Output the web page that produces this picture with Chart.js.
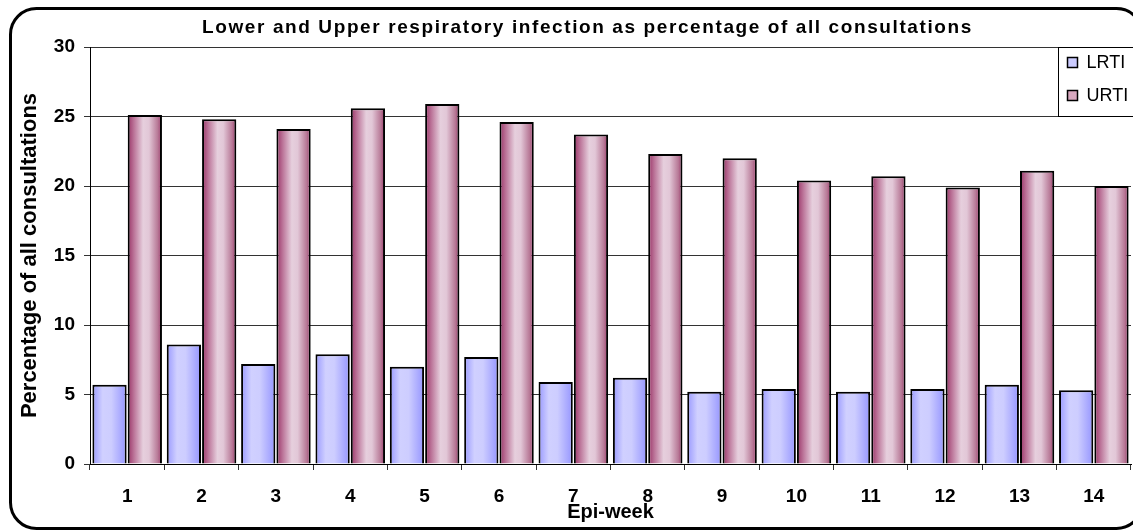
<!DOCTYPE html>
<html>
<head>
<meta charset="utf-8">
<title>Respiratory infection consultations</title>
<script src="https://cdn.jsdelivr.net/npm/chart.js@4.4.1/dist/chart.umd.min.js"></script>
<style>
  body { margin: 0; background: #fff; }
  #wrap { position: relative; width: 1133px; height: 532px; }
</style>
</head>
<body>
<div id="wrap"><canvas id="resp-chart"></canvas></div>
<script>
// Data (percentage of all consultations per epi-week)
const weeks = ["1", "2", "3", "4", "5", "6", "7", "8", "9", "10", "11", "12", "13", "14"];
const lrti = [5.7, 8.6, 7.2, 7.9, 7.0, 7.7, 5.9, 6.2, 5.2, 5.4, 5.2, 5.4, 5.7, 5.3];
const urti = [25.1, 24.8, 24.1, 25.6, 25.9, 24.6, 23.7, 22.3, 22.0, 20.4, 20.7, 19.9, 21.1, 20.0];
const yTicks = [0, 5, 10, 15, 20, 25, 30];

const chartTitle = "Lower and Upper respiratory infection as percentage of all consultations";
const FONT = 'Arial, "Liberation Sans", sans-serif';

// horizontal shading of each bar (cylinder look)
const lrtiShade = [[0, "#9999ff"], [0.3, "#d0d0ff"], [0.55, "#cdcdff"], [1, "#9595ff"]];
const urtiShade = [[0, "#993366"], [0.18, "#bb7398"], [0.45, "#e6cfdd"], [0.62, "#e2c7d7"], [0.88, "#b77896"], [1, "#993366"]];

// paint gradient into each bar just before it is drawn
const barShading = {
  id: "barShading",
  beforeDatasetDraw(chart, args) {
    const stops = chart.data.datasets[args.index].shade;
    const ctx = chart.ctx;
    args.meta.data.forEach((bar) => {
      const { x, width } = bar.getProps(["x", "width"], true);
      const g = ctx.createLinearGradient(x - width / 2, 0, x + width / 2, 0);
      stops.forEach((s) => g.addColorStop(s[0], s[1]));
      bar.options.backgroundColor = g;
    });
  },
};

// rounded frame, title and the legend box sitting over the plot
const decor = {
  id: "decor",
  beforeDraw(chart) {
    const ctx = chart.ctx;
    ctx.save();
    ctx.lineWidth = 3;
    ctx.strokeStyle = "#000";
    ctx.beginPath();
    ctx.roundRect(10.5, 8.5, 1132, 520, 26);
    ctx.stroke();
    ctx.restore();
  },
  afterDraw(chart) {
    const ctx = chart.ctx;
    const area = chart.chartArea;
    ctx.save();
    // title
    ctx.fillStyle = "#000";
    ctx.font = "bold 19px " + FONT;
    ctx.letterSpacing = "1.6px";
    ctx.textAlign = "center";
    ctx.textBaseline = "middle";
    ctx.fillText(chartTitle, chart.width / 2 + 21, 28);
    ctx.letterSpacing = "0px";

    // legend
    const boxX = 1058.5, boxY = area.top + 0.5, boxW = 90, rowH = 33;
    ctx.fillStyle = "#fff";
    ctx.fillRect(boxX, boxY, boxW, rowH * 2 + 3);
    ctx.strokeStyle = "#000";
    ctx.lineWidth = 1;
    ctx.strokeRect(boxX, boxY, boxW, rowH * 2 + 3);
    ctx.font = "18px " + FONT;
    ctx.textAlign = "left";
    chart.data.datasets.forEach((ds, i) => {
      const cy = boxY + 15 + i * rowH;
      ctx.fillStyle = ds.swatch;
      ctx.fillRect(boxX + 9, cy - 5, 10, 10);
      ctx.lineWidth = 1.5;
      ctx.strokeRect(boxX + 9, cy - 5, 10, 10);
      ctx.fillStyle = "#000";
      ctx.fillText(ds.label, boxX + 28, cy + 1);
    });
    ctx.restore();
  },
};

const ctx = document.getElementById("resp-chart");

new Chart(ctx, {
  type: "bar",
  data: {
    labels: weeks,
    datasets: [
      {
        label: "LRTI",
        data: lrti,
        shade: lrtiShade,
        swatch: "#ccccff",
        backgroundColor: () => "#ccccff",
        borderColor: "#000",
        borderWidth: 2,
        categoryPercentage: 0.95,
        barPercentage: 0.97,
      },
      {
        label: "URTI",
        data: urti,
        shade: urtiShade,
        swatch: "#d8a8bf",
        backgroundColor: () => "#cc99b3",
        borderColor: "#000",
        borderWidth: 2,
        categoryPercentage: 0.95,
        barPercentage: 0.97,
      },
    ],
  },
  options: {
    responsive: true,
    maintainAspectRatio: false,
    animation: false,
    layout: { padding: { top: 47, right: 2, left: 0, bottom: 0 } },
    plugins: {
      legend: { display: false },
      title: { display: false },
      tooltip: { enabled: true },
    },
    scales: {
      x: {
        afterFit: (s) => { s.height = 68; },
        grid: { drawOnChartArea: false, tickLength: 6, color: "#333" },
        border: { color: "#000", width: 1 },
        ticks: { color: "#000", padding: 15, font: { family: FONT, size: 19, weight: "bold" } },
        title: {
          display: true,
          text: "Epi-week",
          color: "#000",
          font: { family: FONT, size: 20, weight: "bold" },
          padding: { top: 0, bottom: 8 },
        },
      },
      y: {
        min: 0,
        max: 30,
        afterBuildTicks: (s) => { s.ticks = yTicks.map((v) => ({ value: v })); },
        afterFit: (s) => { s.width = 90; },
        grid: { color: "#333", lineWidth: 1, tickLength: 6 },
        border: { color: "#000", width: 1 },
        ticks: { color: "#000", padding: 9, font: { family: FONT, size: 19, weight: "bold" } },
        title: {
          display: true,
          text: "Percentage of all consultations",
          color: "#000",
          font: { family: FONT, size: 22, weight: "bold" },
          padding: { top: 17, bottom: 0 },
        },
      },
    },
  },
  plugins: [barShading, decor],
});
</script>
</body>
</html>
